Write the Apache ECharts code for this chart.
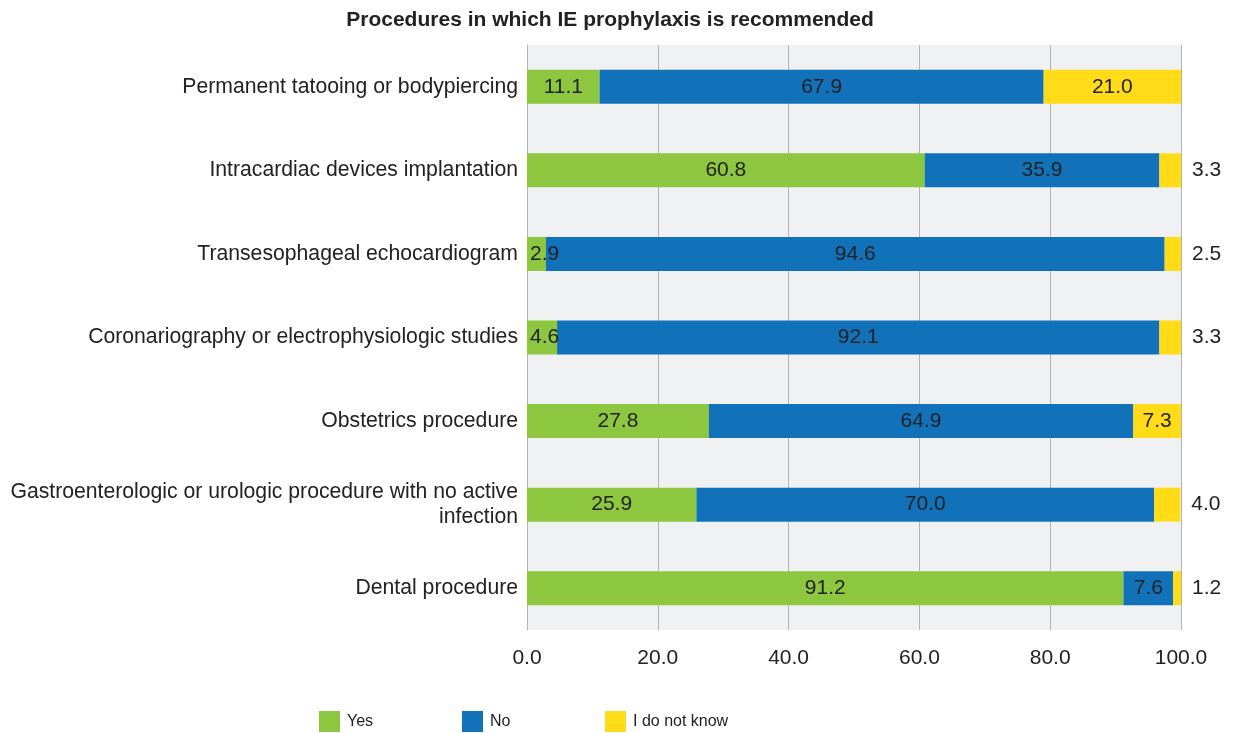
<!DOCTYPE html>
<html><head><meta charset="utf-8">
<script src="https://cdn.jsdelivr.net/npm/echarts@6/dist/echarts.min.js"></script>
<style>html,body{margin:0;padding:0;background:#fff}#c{width:1237px;height:733px}</style>
</head><body><div id="c"></div>
<script>
const categories = [
  "Permanent tatooing or bodypiercing",
  "Intracardiac devices implantation",
  "Transesophageal echocardiogram",
  "Coronariography or electrophysiologic studies",
  "Obstetrics procedure",
  "Gastroenterologic or urologic procedure with no active\ninfection",
  "Dental procedure"
];
const yesValues = [11.1, 60.8, 2.9, 4.6, 27.8, 25.9, 91.2];
const noValues = [67.9, 35.9, 94.6, 92.1, 64.9, 70.0, 7.6];
const dkValues = [21.0, 3.3, 2.5, 3.3, 7.3, 4.0, 1.2];
const seriesNames = ["Yes", "No", "I do not know"];

const font = "'Liberation Sans', Arial, sans-serif";
const lbl = {show: true, color: '#222', fontSize: 21, fontFamily: font, formatter: p => p.value.toFixed(1)};

const yesData = yesValues.map(v => v < 6 ? {value: v, label: {position: 'insideLeft', offset: [-2, 0]}} : v);
const dkData = dkValues.map(v => v < 6 ? {value: v, label: {position: 'right', distance: 11}} : v);

const legendLefts = [319, 462, 605];
const legends = seriesNames.map((n, i) => ({
  top: 711, left: legendLefts[i], padding: 0, itemWidth: 21, itemHeight: 21, icon: 'rect',
  textStyle: {fontSize: 16, color: '#222', fontFamily: font, padding: [0, 0, 0, 2]},
  data: [n]
}));

const chart = echarts.init(document.getElementById('c'));
chart.setOption({
  animation: false,
  title: {text: 'Procedures in which IE prophylaxis is recommended', left: 605, textAlign: 'center', top: 5,
    textStyle: {fontSize: 21, fontWeight: 'bold', color: '#222', fontFamily: font}},
  legend: legends,
  grid: {left: 527, right: 56, top: 45, bottom: 103, show: true, backgroundColor: '#f0f1f3', borderWidth: 0},
  xAxis: {type: 'value', min: 0, max: 100, interval: 20,
    axisLabel: {formatter: v => v.toFixed(1), fontSize: 21, color: '#222', fontFamily: font, margin: 18},
    splitLine: {show: true, lineStyle: {color: '#b4b4b4'}},
    axisLine: {show: false}, axisTick: {show: false}},
  yAxis: {type: 'category', data: categories, inverse: true,
    axisLabel: {fontSize: 21.2, color: '#222', fontFamily: font, margin: 9, lineHeight: 25, align: 'right'},
    axisLine: {show: true, lineStyle: {color: '#b4b4b4'}}, axisTick: {show: false}},
  series: [
    {name: seriesNames[0], type: 'bar', stack: 's', barWidth: 34, data: yesData,
      itemStyle: {color: '#8dc63f'}, label: Object.assign({position: 'inside'}, lbl)},
    {name: seriesNames[1], type: 'bar', stack: 's', barWidth: 34, data: noValues,
      itemStyle: {color: '#1172b9'}, label: Object.assign({position: 'inside'}, lbl)},
    {name: seriesNames[2], type: 'bar', stack: 's', barWidth: 34, data: dkData,
      itemStyle: {color: '#ffdc17'}, label: Object.assign({position: 'inside'}, lbl)}
  ]
});
</script></body></html>
